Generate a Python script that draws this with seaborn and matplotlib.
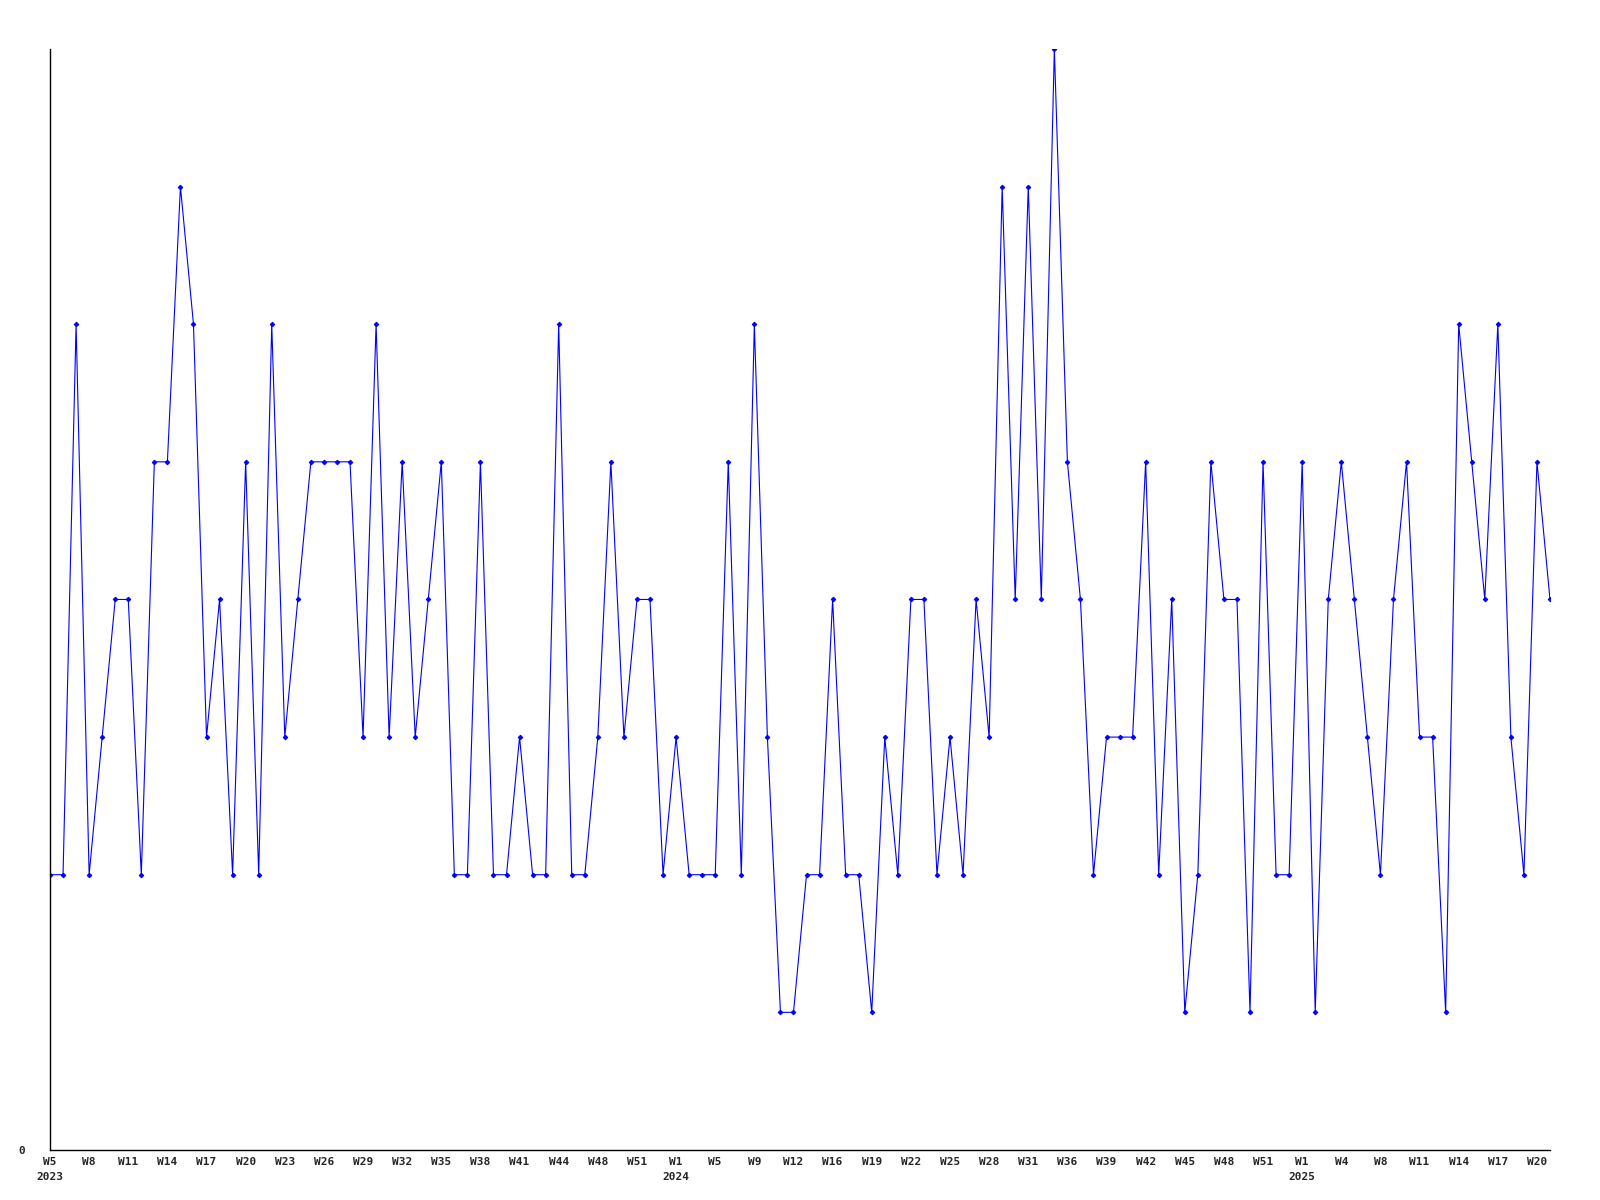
import numpy as np
import pandas as pd
import matplotlib
matplotlib.use("Agg")
import matplotlib.pyplot as plt
import seaborn as sns

# weekly counts, one per data point (2023 W5 .. 2025 W21)
values = [
    2, 2, 6, 2, 3, 4, 4, 2, 5, 5, 7, 6, 3, 4, 2, 5, 2, 6, 3, 4,
    5, 5, 5, 5, 3, 6, 3, 5, 3, 4, 5, 2, 2, 5, 2, 2, 3, 2, 2, 6,
    2, 2, 3, 5, 3, 4, 4, 2, 3, 2, 2, 2, 5, 2, 6, 3, 1, 1, 2, 2,
    4, 2, 2, 1, 3, 2, 4, 4, 2, 3, 2, 4, 3, 7, 4, 7, 4, 8, 5, 4,
    2, 3, 3, 3, 5, 2, 4, 1, 2, 5, 4, 4, 1, 5, 2, 2, 5, 1, 4, 5,
    4, 3, 2, 4, 5, 3, 3, 1, 6, 5, 4, 6, 3, 2, 5, 4,
]

# every third point carries a week label
tick_labels = [
    "W5", "W8", "W11", "W14", "W17", "W20", "W23", "W26", "W29", "W32",
    "W35", "W38", "W41", "W44", "W48", "W51", "W1", "W5", "W9", "W12",
    "W16", "W19", "W22", "W25", "W28", "W31", "W36", "W39", "W42", "W45",
    "W48", "W51", "W1", "W4", "W8", "W11", "W14", "W17", "W20",
]
year_labels = {0: "2023", 16: "2024", 32: "2025"}

df = pd.DataFrame({"pos": np.arange(len(values)), "count": values})

sns.set_style("white")
plt.rcParams["font.family"] = ["DejaVu Sans Mono"]

fig = plt.figure(figsize=(16, 12), dpi=100)
ax = fig.add_axes([0.03125, 0.0417, 0.9375, 0.9175])

sns.lineplot(data=df, x="pos", y="count", ax=ax, color="#0000ff",
             linewidth=0.8, marker="D", markersize=2.3,
             markeredgecolor="#0000ff", markerfacecolor="#0000ff")

ax.set_xlim(0, len(values) - 1)
ax.set_ylim(0, max(values))

labels = []
for i, lab in enumerate(tick_labels):
    if i in year_labels:
        lab = lab + "\n" + year_labels[i]
    labels.append(lab)
ax.set_xticks(np.arange(0, len(tick_labels) * 3, 3))
ax.set_xticklabels(labels, fontsize=8, fontweight="bold", linespacing=1.6)
ax.set_yticks([0])
ax.set_yticklabels(["0"], fontsize=8, fontweight="bold")
ax.tick_params(axis="x", length=0, pad=5)
ax.tick_params(axis="y", length=0, pad=18)

for s in ["top", "right"]:
    ax.spines[s].set_visible(False)
for s in ["left", "bottom"]:
    ax.spines[s].set_color("black")
    ax.spines[s].set_linewidth(1.0)

ax.set_xlabel("")
ax.set_ylabel("")
ax.grid(False)

fig.savefig("out.png", dpi=100)
